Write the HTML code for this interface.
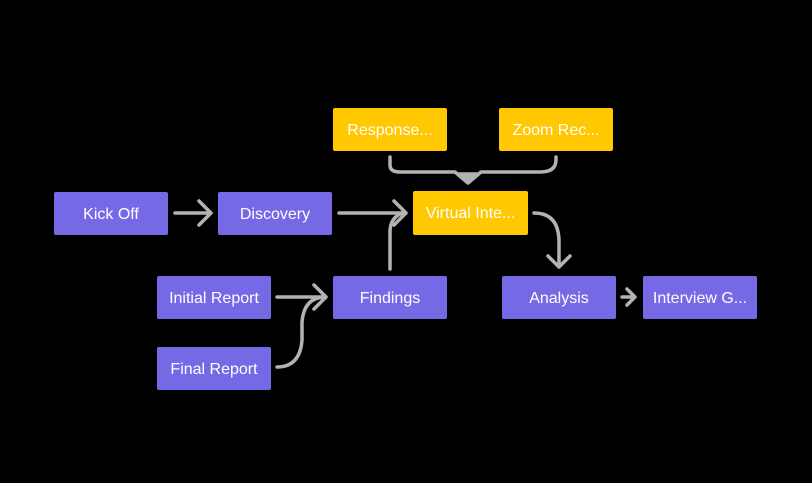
<!DOCTYPE html>
<html><head><style>
body{margin:0;background:#000;width:812px;height:483px;overflow:hidden;position:relative;font-family:"Liberation Sans",sans-serif}
.b{position:absolute;width:114px;height:43px;border-radius:2px;color:#fff;font-size:16px;display:flex;align-items:center;justify-content:center;white-space:nowrap;padding-top:2px;box-sizing:border-box}
.p{background:#7569e6}.y{background:#ffc800}
svg{position:absolute;left:0;top:0}
</style></head><body>
<svg width="812" height="483" fill="none" stroke="#b3b3b3" stroke-width="3.5" stroke-linecap="round" stroke-linejoin="round">
<path d="M175 213H210M199 201L211 213L199 225"/>
<path d="M339 213H406M394 201L406 213L394 225"/>
<path d="M390 269V232Q390 218 402 213"/>
<path d="M277 297H326M314 285L326 297L314 309"/>
<path d="M277 367Q300 367 302 340V322Q304 298 324 297"/>
<path d="M390 157V165Q390 172 400 172H455L468 183L481 172H540Q556 172 556 160V157"/>
<path d="M459 174L468 182L477 174Z" fill="#b3b3b3"/>
<path d="M534 213Q558 213 559 240V267M548 256L559 267L570 256"/>
<path d="M622 297H635M627 289L635 297L627 305"/>
</svg>
<div class="b p" style="left:54px;top:192px">Kick Off</div>
<div class="b p" style="left:218px;top:192px">Discovery</div>
<div class="b y" style="left:333px;top:108px">Response...</div>
<div class="b y" style="left:499px;top:108px">Zoom Rec...</div>
<div class="b y" style="left:413px;top:191px;width:115px;height:44px">Virtual Inte...</div>
<div class="b p" style="left:157px;top:276px">Initial Report</div>
<div class="b p" style="left:333px;top:276px">Findings</div>
<div class="b p" style="left:502px;top:276px">Analysis</div>
<div class="b p" style="left:643px;top:276px">Interview G...</div>
<div class="b p" style="left:157px;top:347px">Final Report</div>
</body></html>
